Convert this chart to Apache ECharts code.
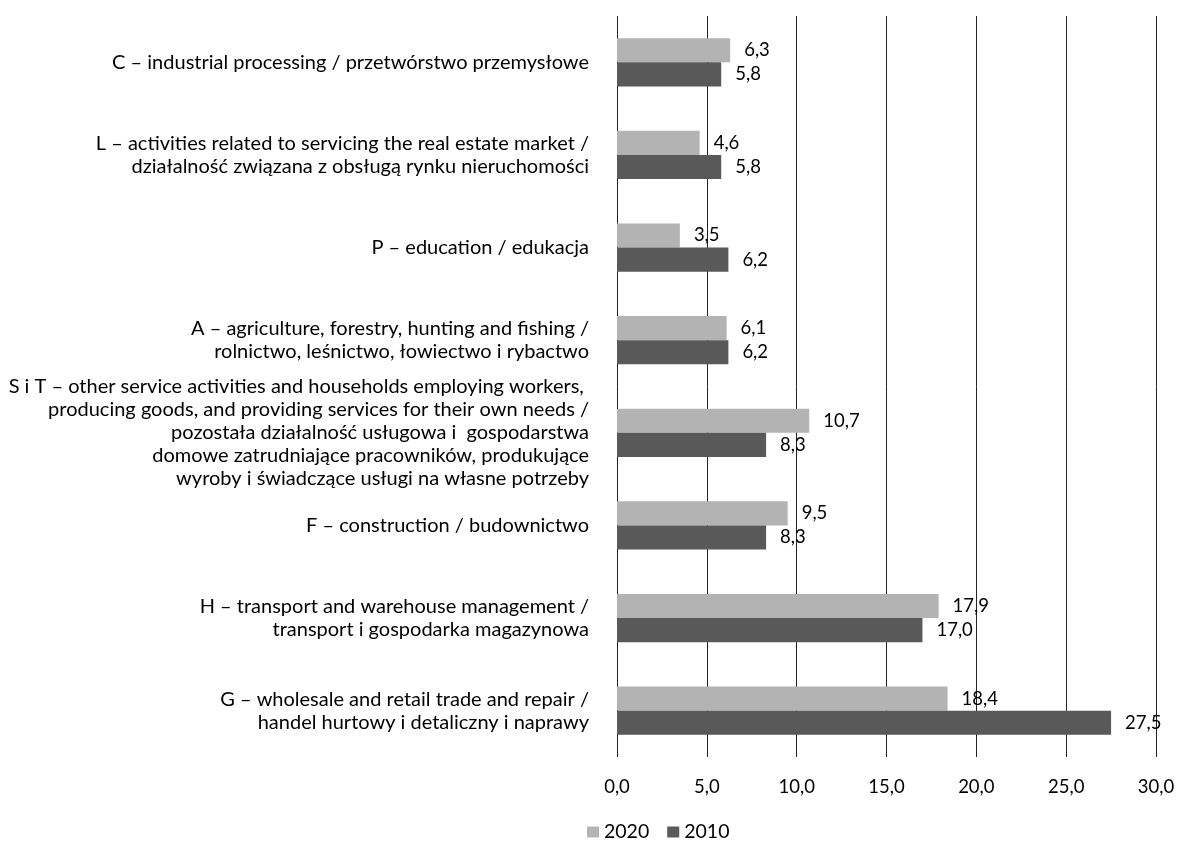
<!DOCTYPE html>
<html><head><meta charset="utf-8">
<script src="https://cdn.jsdelivr.net/npm/echarts@6/dist/echarts.min.js"></script>
<style>html,body{margin:0;padding:0;background:#fff}#c{width:1178px;height:841px}</style>
</head><body><div id="c"></div>
<script>
const categories = [
  "C – industrial processing / przetwórstwo przemysłowe",
  "L – activities related to servicing the real estate market /\ndziałalność związana z obsługą rynku nieruchomości",
  "P – education / edukacja",
  "A – agriculture, forestry, hunting and fishing /\nrolnictwo, leśnictwo, łowiectwo i rybactwo",
  "S i T – other service activities and households employing workers, \nproducing goods, and providing services for their own needs /\npozostała działalność usługowa i  gospodarstwa\ndomowe zatrudniające pracowników, produkujące\nwyroby i świadczące usługi na własne potrzeby",
  "F – construction / budownictwo",
  "H – transport and warehouse management /\ntransport i gospodarka magazynowa",
  "G – wholesale and retail trade and repair /\nhandel hurtowy i detaliczny i naprawy"
];
const values2020 = [6.3, 4.6, 3.5, 6.1, 10.7, 9.5, 17.9, 18.4];
const values2010 = [5.8, 5.8, 6.2, 6.2, 8.3, 8.3, 17.0, 27.5];
const xTicks = { min: 0, max: 30, interval: 5 };

const FONT = 'Lato';
const fmt = v => v.toFixed(1).replace('.', ',');
const chart = echarts.init(document.getElementById('c'));
const labelCfg = {
  show: true, position: 'right', distance: 14,
  color: '#000', fontFamily: FONT, fontSize: 18.5,
  formatter: p => fmt(p.value)
};
chart.setOption({
  animation: false,
  textStyle: { fontFamily: FONT },
  grid: { left: 617, right: 22, top: 16, bottom: 84 },
  legend: {
    left: 582, top: 817,
    itemWidth: 12, itemHeight: 11, itemGap: 18,
    icon: 'rect',
    textStyle: { fontFamily: FONT, fontSize: 19.5, color: '#000' },
    data: ['2020', '2010']
  },
  xAxis: {
    type: 'value', min: xTicks.min, max: xTicks.max, interval: xTicks.interval,
    axisLine: { show: false }, axisTick: { show: false },
    splitLine: { show: true, lineStyle: { color: '#222', width: 1 } },
    axisLabel: { color: '#000', fontFamily: FONT, fontSize: 18.5, margin: 21, formatter: v => fmt(v) }
  },
  yAxis: {
    type: 'category', inverse: true, data: categories,
    axisLine: { show: false }, axisTick: { show: false },
    axisLabel: { color: '#000', fontFamily: FONT, fontSize: 20, lineHeight: 23, margin: 28, align: 'right' }
  },
  series: [
    { name: '2020', type: 'bar', data: values2020, barGap: '0%', barCategoryGap: '48%',
      itemStyle: { color: '#b3b3b3' }, label: labelCfg },
    { name: '2010', type: 'bar', data: values2010, barGap: '0%', barCategoryGap: '48%',
      itemStyle: { color: '#595959' }, label: labelCfg }
  ]
});
</script></body></html>
